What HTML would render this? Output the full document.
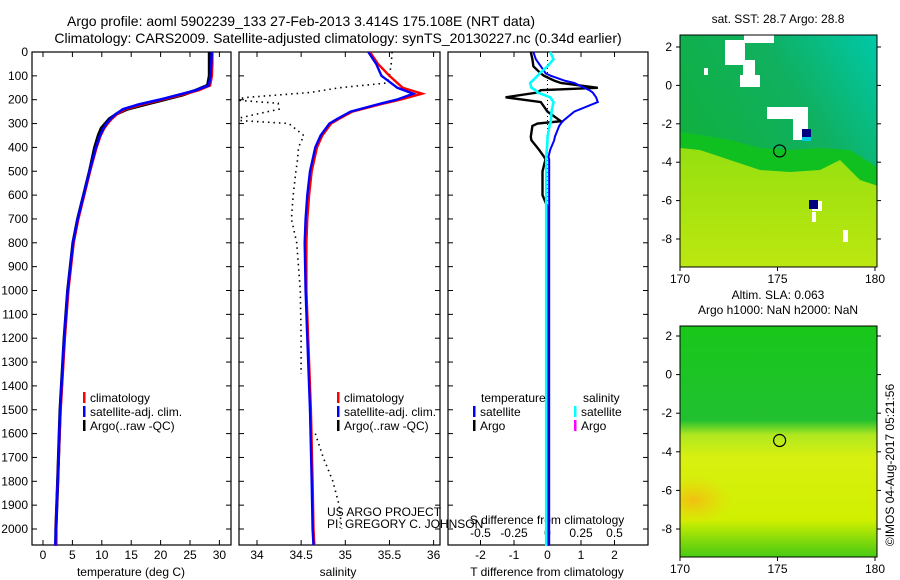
<!DOCTYPE html>
<html><head><meta charset="utf-8">
<style>
html,body{margin:0;padding:0;background:#fff;}
svg{display:block;font-family:"Liberation Sans","DejaVu Sans",sans-serif;}
</style></head>
<body>
<svg id="chart" width="900" height="580" viewBox="0 0 900 580" xmlns="http://www.w3.org/2000/svg">
<g font-size="14" text-anchor="middle">
<text x="301" y="26">Argo profile: aoml 5902239_133 27-Feb-2013 3.414S 175.108E (NRT data)</text>
<text x="338" y="43">Climatology: CARS2009. Satellite-adjusted climatology: synTS_20130227.nc (0.34d earlier)</text>
</g>
<g id="panels"></g>
<g id="maps"></g>
<text font-size="12" transform="translate(894,465) rotate(-90)" text-anchor="middle">©IMOS 04-Aug-2017 05:21:56</text>
</svg>
<script>
// ---------- data ----------
const tDepth = [0,50,100,140,160,180,200,220,240,260,280,300,320,350,400,500,600,700,800,1000,1200,1500,1800,2000,2070];
const tClim  = [28.8,28.8,28.7,28.4,26.5,23.5,20.2,16.8,14.0,12.6,11.7,11.0,10.4,9.8,9.1,8.0,7.0,6.0,5.2,4.3,3.7,3.0,2.5,2.2,2.2];
const tSat   = [28.7,28.6,28.5,28.2,26.0,23.0,19.8,16.2,13.6,12.4,11.5,10.8,10.3,9.7,9.0,7.9,6.9,5.9,5.1,4.2,3.6,2.9,2.5,2.2,2.1];
const tArgo  = [28.3,28.3,28.3,28.0,26.0,23.8,20.6,17.4,14.3,12.5,11.3,10.6,9.9,9.4,8.8,7.9,6.9,5.9,5.1,4.2,3.6,2.9,2.5,2.2,2.2];

const sDepth = [0,50,100,150,175,200,220,250,280,300,350,400,500,600,700,800,1000,1200,1500,1800,2000,2070];
const sClim  = [35.28,35.37,35.50,35.65,35.87,35.62,35.39,35.08,34.93,34.84,34.74,34.68,34.62,34.59,34.57,34.56,34.56,34.58,34.61,34.63,34.64,34.65];
const sSat   = [35.26,35.35,35.41,35.59,35.77,35.58,35.36,35.06,34.91,34.82,34.72,34.66,34.60,34.57,34.55,34.54,34.55,34.57,34.60,34.62,34.63,34.64];
const aDepth = [0,50,100,130,150,170,190,200,215,240,260,285,300,350,400,450,500,600,700,800,1000,1200,1350,null,1600,1700,1800,1900,2000];
const aSal   = [35.53,35.52,35.50,35.47,34.93,34.6,33.9,33.7,34.24,34.25,34.0,33.7,34.36,34.53,34.47,34.46,34.44,34.41,34.39,34.45,34.49,34.50,34.50,null,34.66,34.75,34.86,34.93,34.96];

const dDepth  = [0,30,60,90,100,120,130,150,160,170,190,210,250,290,300,310,355,370,410,440,450,500,600,650,800,1200,2070];
const dTsat   = [-0.42,-0.35,-0.2,-0.05,0.1,0.5,0.8,1.1,1.25,1.35,1.45,1.5,0.8,0.45,0.4,0.35,0.22,0.2,0.08,0.03,0.05,0.05,0.05,0.05,0.05,0.05,0.05];
const dTargo  = [-0.5,-0.45,-0.42,-0.2,-0.1,0.2,0.4,1.5,-0.2,-0.3,-1.25,-0.2,0.0,0.4,-0.3,-0.45,-0.5,-0.48,-0.25,-0.1,-0.06,-0.15,-0.15,0.0,0.02,0.02,0.02];
const dSsat   = [0.02,0.045,0.0,-0.06,-0.075,-0.11,-0.13,-0.12,-0.09,-0.075,0.02,0.045,0.03,0.025,0.02,0.015,0.0,0.0,-0.005,-0.01,-0.01,-0.01,-0.01,-0.01,-0.01,-0.01,-0.01];

const depthTicks = [0,100,200,300,400,500,600,700,800,900,1000,1100,1200,1300,1400,1500,1600,1700,1800,1900,2000];
const tTicks = [0,5,10,15,20,25,30];
const sTicks = [34,34.5,35,35.5,36];
const sTickLabels = ["34","34.5","35","35.5","36"];
const dtTicks = [-2,-1,0,1,2];
const dsTicks = [-0.5,-0.25,0,0.25,0.5];
const dsTickLabels = ["-0.5","-0.25","0","0.25","0.5"];

// ---------- helpers ----------
const NS="http://www.w3.org/2000/svg";
function mk(tag,attrs,parent){const e=document.createElementNS(NS,tag);for(const k in attrs)e.setAttribute(k,attrs[k]);if(parent)parent.appendChild(e);return e;}
const TOP=52, BOT=545;
const yD = d => TOP + d*0.2385;
const panels=document.getElementById('panels');

function panelFrame(name,x0,x1){
  const g=mk('g',{},panels);
  
  
  const r=mk('rect',{x:x0,y:TOP,width:x1-x0,height:BOT-TOP,fill:'none',stroke:'#000','stroke-width':1.2},g);
  
  
  depthTicks.forEach(d=>{const y=yD(d);
    mk('line',{x1:x0,x2:x0+5,y1:y,y2:y,stroke:'#000'},g);
    mk('line',{x1:x1-5,x2:x1,y1:y,y2:y,stroke:'#000'},g);});
  return g;
}
function xTicks(g,ticks,labels,fx,ylab){
  ticks.forEach((v,i)=>{const x=fx(v);
    mk('line',{x1:x,x2:x,y1:BOT-5,y2:BOT,stroke:'#000'},g);
    mk('line',{x1:x,x2:x,y1:TOP,y2:TOP+5,stroke:'#000'},g);
    const t=mk('text',{x:x,y:ylab,'font-size':12,'text-anchor':'middle'},g);
    
    
    t.textContent=labels[i];});
}
function line(g,name,xs,ds,fx,color,w,dash){
  let d='',pen=false;
  for(let i=0;i<xs.length;i++){
    if(xs[i]===null||ds[i]===null){pen=false;continue;}
    d+=(pen?'L':'M')+fx(xs[i]).toFixed(1)+','+yD(ds[i]).toFixed(1);pen=true;}
  const p=mk('path',{d:d,fill:'none',stroke:color,'stroke-width':w},g);
  if(dash)p.setAttribute('stroke-dasharray',dash);
  
  
}
function legendRow(g,x,y,color,label){
  mk('rect',{x:x,y:y-10,width:2.5,height:11,fill:color},g);
  const t=mk('text',{x:x+7,y:y,'font-size':12},g);
  
  
  t.textContent=label;
}
function text(g,name,x,y,s,anchor){const t=mk('text',{x:x,y:y,'font-size':12,'text-anchor':anchor||'start'},g);
  t.textContent=s;return t;}

// y-axis labels
const yl=mk('g',{},panels);


depthTicks.forEach(d=>{const t=mk('text',{x:28,y:yD(d)+4,'font-size':12,'text-anchor':'end'},yl);
  
  
  t.textContent=d;});

// Panel 1 temperature
const xT=v=>43+v*5.88;
const g1=panelFrame('temperature-panel',32,231);
xTicks(g1,tTicks,tTicks.map(String),xT,559);
text(g1,'x-axis-title',131,576,'temperature (deg C)','middle');
line(g1,'argo-temperature',tArgo,tDepth,xT,'#000',3.2);
line(g1,'climatology-temperature',tClim,tDepth,xT,'#f00',2.6);
line(g1,'satellite-temperature',tSat,tDepth,xT,'#00f',2.6);
legendRow(g1,83,402,'#f00','climatology');
legendRow(g1,83,416,'#00f','satellite-adj. clim.');
legendRow(g1,83,430,'#000','Argo(..raw -QC)');

// Panel 2 salinity
const xS=v=>257+(v-34)*88.3;
const g2=panelFrame('salinity-panel',239,440);
const clip=mk('clipPath',{id:'c2'},g2);mk('rect',{x:239,y:TOP,width:201,height:BOT-TOP},clip);
xTicks(g2,sTicks,sTickLabels,xS,559);
text(g2,'x-axis-title',338,576,'salinity','middle');
const g2c=mk('g',{'clip-path':'url(#c2)'},g2);
line(g2c,'argo-salinity',aSal,aDepth,xS,'#000',1.6,'1.5,4');
line(g2c,'climatology-salinity',sClim,sDepth,xS,'#f00',2.4);
line(g2c,'satellite-salinity',sSat,sDepth,xS,'#00f',2.4);
legendRow(g2,337,402,'#f00','climatology');
legendRow(g2,337,416,'#00f','satellite-adj. clim.');
legendRow(g2,337,430,'#000','Argo(..raw -QC)');
text(g2,'project-label',327,516,'US ARGO PROJECT');
text(g2,'pi-label',327,528,'PI: GREGORY C. JOHNSON');

// Panel 3 differences
const xDT=v=>547.5+v*33.5;
const xDS=v=>547.5+v*134;
const g3=panelFrame('difference-panel',448,648);
xTicks(g3,dtTicks,dtTicks.map(String),xDT,559);
dsTicks.forEach((v,i)=>{const t=text(g3,'s-tick-label',xDS(v),537,dsTickLabels[i],'middle');});
text(g3,'s-axis-title',547,524,'S difference from climatology','middle');
text(g3,'x-axis-title',547,576,'T difference from climatology','middle');
mk('line',{x1:xDT(0),x2:xDT(0),y1:TOP,y2:BOT,stroke:'#000','stroke-dasharray':'1,3'},g3);
line(g3,'argo-t-difference',dTargo,dDepth,xDT,'#000',2.4);
line(g3,'satellite-t-difference',dTsat,dDepth,xDT,'#00f',2);
line(g3,'satellite-s-difference',dSsat,dDepth,xDS,'#0ff',2.6);
text(g3,'legend-temperature-header',481,402,'temperature');
text(g3,'legend-salinity-header',583,402,'salinity');
legendRow(g3,473,416,'#00f','satellite');
legendRow(g3,473,430,'#000','Argo');
legendRow(g3,574,416,'#0ff','satellite');
legendRow(g3,574,430,'#f0f','Argo');

// ---------- maps ----------
const maps=document.getElementById('maps');
const lons=[170,175,180];
const lats=[2,0,-2,-4,-6,-8];
function mapAxes(name,y0,y1,lat2y,titleLines,inner){
  const g=mk('g',{},maps);
  
  
  const cp=mk('clipPath',{id:'cp'+y0},g);mk('rect',{x:680,y:y0,width:197,height:y1-y0},cp);
  const ig=mk('g',{'clip-path':'url(#cp'+y0+')'},g);
  inner(ig);
  mk('rect',{x:680,y:y0,width:197,height:y1-y0,fill:'none',stroke:'#000'},g);
  const lx=v=>680+(v-170)*19.5;
  lons.forEach(v=>{mk('line',{x1:lx(v),x2:lx(v),y1:y1,y2:y1+4,stroke:'#000'},g);
    text(g,'map-lon-label',lx(v),y1+16,String(v),'middle');});
  lats.forEach(v=>{const y=lat2y(v);mk('line',{x1:676,x2:680,y1:y,y2:y,stroke:'#000'},g);
    mk('line',{x1:877,x2:881,y1:y,y2:y,stroke:'#000'},g);
    text(g,'map-lat-label',672,y+4,String(v),'end');});
  const n=titleLines.length;
  titleLines.forEach((s,i)=>text(g,'map-title',778,y0-4-(n-1-i)*15-8,s,'middle'));
  const c=mk('circle',{cx:lx(175.108),cy:lat2y(-3.414),r:6,fill:'none',stroke:'#000','stroke-width':1.2},g);
  
  
  return g;
}
// SST map
const y1f=v=>47+(2-v)*19.2;
mapAxes('sst-map',35,267,y1f,['sat. SST: 28.7 Argo: 28.8'],ig=>{
  const df=mk('defs',{},ig);
  const lg=mk('linearGradient',{id:'sstg',x1:0,y1:0.6,x2:1,y2:0.2},df);
  mk('stop',{offset:'0','stop-color':'#10b040'},lg);mk('stop',{offset:'0.55','stop-color':'#10b060'},lg);mk('stop',{offset:'1','stop-color':'#00c8a8'},lg);
  const lg2=mk('linearGradient',{id:'sstl',x1:0,y1:0,x2:0,y2:1},df);
  mk('stop',{offset:'0','stop-color':'#80d810'},lg2);mk('stop',{offset:'0.5','stop-color':'#98e010'},lg2);mk('stop',{offset:'1','stop-color':'#c0e810'},lg2);
  mk('rect',{x:670,y:30,width:220,height:250,fill:'url(#sstl)'},ig);
  mk('polygon',{points:'670,30 890,30 890,190 860,180 840,160 820,170 790,172 760,170 730,160 700,150 680,148 670,148',fill:'#10c020'},ig);
  mk('polygon',{points:'670,30 890,30 890,175 850,150 820,148 790,150 760,148 730,140 700,135 680,132 670,132',fill:'url(#sstg)'},ig);
  [[744,35,30,8],[725,40,20,25],[743,60,12,15],[740,75,20,12],[767,107,36,12],[793,107,15,33],[704,68,4,7],[812,201,10,10],[812,212,4,10],[843,230,5,12]].forEach(r=>mk('rect',{x:r[0],y:r[1],width:r[2],height:r[3],fill:'#fff'},ig));
  mk('rect',{x:802,y:129,width:9,height:8,fill:'#000080'},ig);
  mk('rect',{x:802,y:137,width:9,height:4,fill:'#00c8e0'},ig);
  mk('rect',{x:809,y:200,width:9,height:9,fill:'#000080'},ig);
});
// SLA map
const y2f=v=>336+(2-v)*19.3;
mapAxes('sla-map',326,557,y2f,['Altim. SLA: 0.063','Argo h1000: NaN h2000: NaN'],ig=>{
  const df=mk('defs',{},ig);
  const lg=mk('linearGradient',{id:'slag',x1:0,y1:0,x2:0,y2:1},df);
  mk('stop',{offset:'0','stop-color':'#18c818'},lg);
  mk('stop',{offset:'0.4','stop-color':'#20c030'},lg);
  mk('stop',{offset:'0.46','stop-color':'#b0e820'},lg);
  mk('stop',{offset:'0.55','stop-color':'#d8f010'},lg);
  mk('stop',{offset:'0.8','stop-color':'#d0f000'},lg);
  mk('stop',{offset:'0.92','stop-color':'#60d010'},lg);
  mk('stop',{offset:'1','stop-color':'#20c818'},lg);
  mk('rect',{x:670,y:320,width:220,height:250,fill:'url(#slag)'},ig);
  const rg=mk('radialGradient',{id:'orng'},df);
  mk('stop',{offset:'0','stop-color':'#f0c010'},rg);mk('stop',{offset:'1','stop-color':'#f0d010','stop-opacity':0},rg);
  mk('ellipse',{cx:693,cy:500,rx:40,ry:25,fill:'url(#orng)'},ig);
});
</script>
</body></html>
